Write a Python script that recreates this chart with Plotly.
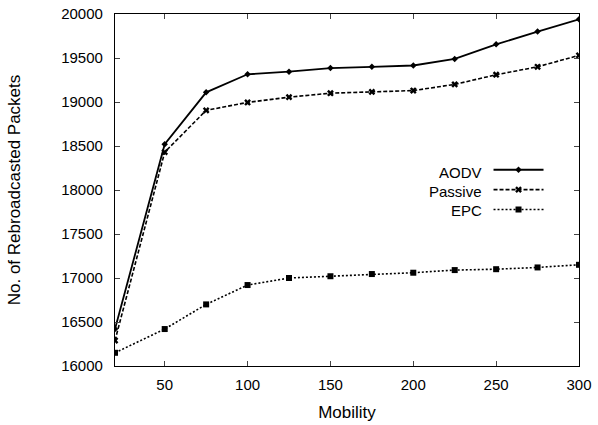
import plotly.graph_objects as go

mobility = [20, 50, 75, 100, 125, 150, 175, 200, 225, 250, 275, 300]
aodv = [16420, 18520, 19110, 19315, 19345, 19385, 19400, 19415, 19490, 19655, 19800, 19940]
passive = [16290, 18430, 18905, 18995, 19055, 19100, 19115, 19130, 19200, 19310, 19400, 19530]
epc = [16150, 16420, 16700, 16920, 17000, 17020, 17045, 17060, 17090, 17100, 17120, 17150]
series_names = ["AODV", "Passive", "EPC"]
x_ticks = [50, 100, 150, 200, 250, 300]
y_ticks = [16000, 16500, 17000, 17500, 18000, 18500, 19000, 19500, 20000]

styles = [
    dict(dash="solid", symbol="diamond", size=5, width=1.8),
    dict(dash="4px,2px", symbol="x", size=6, width=1.6),
    dict(dash="2px,2px", symbol="square", size=6, width=1.6),
]

fig = go.Figure()
for name, ys, st in zip(series_names, [aodv, passive, epc], styles):
    fig.add_trace(go.Scatter(
        x=mobility, y=ys, mode="lines+markers", name="",
        line=dict(color="black", width=st["width"], dash=st["dash"]),
        marker=dict(color="black", symbol=st["symbol"], size=st["size"]),
        hovertemplate=name + ": %{y}<extra></extra>",
    ))

font = "Liberation Sans, Arial, Helvetica, sans-serif"
fig.update_layout(
    width=598, height=425,
    margin=dict(l=115, r=19, t=14, b=59),
    paper_bgcolor="white", plot_bgcolor="white",
    font=dict(family=font, size=14, color="black"),
    showlegend=True,
    legend=dict(x=0.805, y=0.60, xanchor="left", yanchor="top",
                bgcolor="rgba(0,0,0,0)", itemwidth=50,
                font=dict(size=13), tracegroupgap=0),
    xaxis=dict(range=[20, 300], tickvals=x_ticks, ticks="inside", ticklen=5,
               tickfont=dict(size=15), tickformat="d", ticklabelstandoff=5,
               showline=True, linecolor="black", linewidth=1.2, mirror="ticks",
               showgrid=False, zeroline=False, automargin=False,
               title=dict(text="Mobility", standoff=14)),
    yaxis=dict(range=[16000, 20000], tickvals=y_ticks, ticks="inside", ticklen=5,
               tickfont=dict(size=15), tickformat="d", ticklabelstandoff=8,
               showline=True, linecolor="black", linewidth=1.2, mirror="ticks",
               showgrid=False, zeroline=False, automargin=False,
               title=dict(text="No. of Rebroadcasted Packets", standoff=36)),
)

label_y = [0.551, 0.495, 0.441]
for name, yy in zip(series_names, label_y):
    fig.add_annotation(x=0.795, y=yy, xref="paper", yref="paper", text=name,
                       showarrow=False, xanchor="right", yanchor="middle",
                       font=dict(size=15))

fig.write_html("out.html", config={"displayModeBar": False},
               post_script="document.body.style.margin='0px';")
